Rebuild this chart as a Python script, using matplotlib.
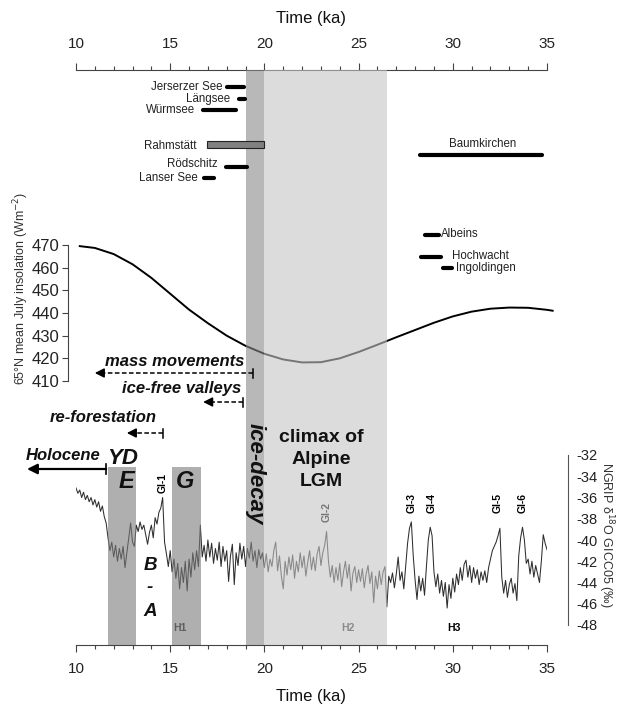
import numpy as np
import matplotlib
matplotlib.use("Agg")
import matplotlib.pyplot as plt
from matplotlib.patches import Rectangle

plt.rcParams['font.family'] = ['Liberation Sans', 'DejaVu Sans']

# ---------------- data ----------------
time_ticks = [10, 15, 20, 25, 30, 35]

ins_time = [10.2, 11, 12, 13, 14, 15, 16, 17, 18, 19, 20, 21, 22, 23, 24, 25,
            26, 27, 28, 29, 30, 31, 32, 33, 34, 35, 35.3]
ins_value = [469.5, 468.7, 466.0, 461.5, 455.5, 448.5, 441.5, 435.5, 430.0, 425.5,
             422.0, 419.5, 418.2, 418.3, 420.0, 422.8, 426.0, 429.3, 432.5, 435.7,
             438.5, 440.6, 441.9, 442.4, 442.3, 441.4, 441.0]
ins_ticks = [410, 420, 430, 440, 450, 460, 470]

ngrip_d18o = [
    -35.1, -35.6, -35.3, -36.0, -35.5, -36.2, -35.8, -36.4, -36.0, -36.7,
    -36.2, -36.9, -36.4, -37.3, -36.8, -37.8, -38.4, -39.8, -41.0, -40.2,
    -41.6, -40.5, -42.0, -40.8, -41.8, -40.6, -42.6, -41.2, -39.8, -38.4,
    -40.2, -40.6, -38.6, -39.2, -38.3, -39.0, -38.6, -39.5, -40.4, -39.3,
    -38.6, -39.8, -37.9, -38.5, -37.4, -37.0, -36.0, -40.2, -41.3, -42.5,
    -41.0, -43.0, -41.8, -43.6, -42.2, -44.6, -42.6, -44.0, -42.0, -44.8,
    -41.8, -43.5, -41.2, -42.8, -41.0, -42.5, -38.6, -41.6, -40.5, -42.0,
    -40.0, -41.6, -40.3, -42.2, -40.8, -41.9, -40.2, -42.5, -40.6, -42.0,
    -41.0, -43.9, -41.5, -40.4, -44.2, -41.2, -42.4, -40.3, -41.8, -40.6,
    -42.5, -40.8, -41.7, -40.2, -42.0, -41.0, -42.6, -40.9, -41.8, -41.2,
    -42.6, -41.3, -43.0, -41.8, -42.5, -41.0, -40.2, -42.9, -41.5, -43.4,
    -44.6, -42.0, -43.3, -41.6, -42.8, -41.4, -43.6, -42.0, -43.0, -41.2,
    -42.6, -41.5, -43.4, -42.1, -41.0, -42.8, -41.6, -42.9, -41.3, -40.6,
    -42.4, -41.2, -40.5, -39.2, -42.0, -43.5, -42.4, -44.0, -42.6, -43.8,
    -42.2, -44.4, -43.0, -42.0, -43.6, -42.3, -44.8, -43.1, -42.5, -44.0,
    -42.8, -43.9, -42.7, -44.5, -43.2, -42.4, -44.1, -43.0, -45.9, -43.4,
    -44.6, -42.9, -44.2, -43.0, -42.5, -46.3, -43.4, -44.0, -43.1, -44.5,
    -43.2, -41.6, -43.8, -43.0, -44.6, -42.5, -40.3, -38.9, -38.3, -41.5,
    -43.8, -45.6, -43.4, -44.8, -43.6, -45.2, -42.5, -40.0, -38.8, -39.6,
    -43.0, -44.4, -43.2, -45.0, -43.8, -45.3, -44.0, -46.4, -44.2, -45.5,
    -43.6, -44.9, -43.2, -44.2, -42.6, -43.8, -42.3, -41.9, -43.5, -42.4,
    -44.0, -42.6, -43.6, -42.8, -44.2, -43.0, -43.8, -42.9, -44.0, -42.6,
    -41.8, -41.0, -40.6, -40.2, -39.6, -38.9, -43.5, -45.0, -43.8, -45.4,
    -44.2, -43.6, -45.0, -44.1, -45.7, -41.5, -39.8, -38.8, -40.0, -42.2,
    -41.8, -43.2, -42.0, -43.5, -42.4, -43.2, -44.0, -42.0, -39.5, -40.3,
    -40.9]
ngrip_time = np.round(10.0 + 0.1 * np.arange(len(ngrip_d18o)), 1)
ngrip_ticks = [-48, -46, -44, -42, -40, -38, -36, -34, -32]

# periods (ka)
ice_decay = (19.0, 20.0)
lgm_climax = (20.0, 26.5)
stadial_E = (11.7, 13.2)
stadial_G = (15.1, 16.65)

# site age ranges (ka)
sites = ['Jerserzer See', 'Längsee', 'Würmsee', 'Rahmstätt', 'Rödschitz',
         'Lanser See', 'Baumkirchen', 'Albeins', 'Hochwacht', 'Ingoldingen']
site_start = [18.0, 18.65, 16.75, 16.95, 17.95, 16.8, 28.25, 28.5, 28.3, 29.5]
site_end = [18.9, 18.95, 18.5, 20.0, 19.05, 17.35, 34.75, 29.25, 29.35, 29.95]

# process arrows (ka): (from, to)
mass_mov = (19.4, 11.0)
ice_free = (18.85, 16.75)
reforest = (14.6, 12.7)
holocene = (11.6, 7.4)

# Greenland interstadials and Heinrich events (ka)
gi_names = ['GI-1', 'GI-2', 'GI-3', 'GI-4', 'GI-5', 'GI-6']
gi_age = [14.62, 23.3, 27.8, 28.85, 32.4, 33.7]
h_names = ['H1', 'H2', 'H3']
h_age = [15.5, 24.45, 30.05]

# ---------------- layout ----------------
W, H = 617, 706
fig = plt.figure(figsize=(W / 100, H / 100), dpi=100)


def fx(px):
    return px / W


def fy(py):
    return 1 - py / H


X0, X1 = 76, 547
YT, YB = 70, 645
AX_COL = '#444444'
TXT = '#111111'

# insolation axes
ax2 = fig.add_axes([fx(X0), fy(381), fx(X1) - fx(X0), fy(245) - fy(381)], zorder=1)
ax2.patch.set_visible(False)
for s in ['top', 'right', 'bottom']:
    ax2.spines[s].set_visible(False)
ax2.spines['left'].set_position(('outward', 8 * 0.72))
ax2.spines['left'].set_color(AX_COL)
ax2.set_xlim(10, 35)
ax2.set_ylim(410, 470)
ax2.set_xticks([])
ax2.set_yticks(ins_ticks)
ax2.tick_params(axis='y', length=4, width=0.8, labelsize=12, pad=2,
                color=AX_COL, labelcolor='#222222')
ax2.plot(ins_time, ins_value, color='black', lw=1.4, clip_on=False)

# NGRIP axes
ax3 = fig.add_axes([fx(X0), fy(625), fx(X1) - fx(X0), fy(455) - fy(625)], zorder=1)
ax3.patch.set_visible(False)
for s in ['top', 'left', 'bottom']:
    ax3.spines[s].set_visible(False)
ax3.spines['right'].set_position(('outward', 21 * 0.72))
ax3.spines['right'].set_color('#555555')
ax3.set_xlim(10, 35)
ax3.set_ylim(-48, -32)
ax3.set_xticks([])
ax3.yaxis.tick_right()
ax3.set_yticks(ngrip_ticks)
ax3.set_yticklabels([f'{v:d}' for v in ngrip_ticks])
ax3.tick_params(axis='y', length=0, labelsize=10.5, pad=6, labelcolor='#222222')
ax3.plot(ngrip_time, ngrip_d18o, color='#2e2e2e', lw=0.75)

# main layout axes (x in ka, y in pixel rows)
ax = fig.add_axes([fx(X0), fy(YB), fx(X1) - fx(X0), fy(YT) - fy(YB)], zorder=2)
ax.patch.set_visible(False)
ax.set_xlim(10, 35)
ax.set_ylim(YB, YT)
for s in ['top', 'left', 'right']:
    ax.spines[s].set_visible(False)
ax.spines['bottom'].set_color(AX_COL)
ax.set_yticks([])
ax.set_xticks(time_ticks)
ax.set_xticks(np.arange(10, 36, 1), minor=True)
ax.tick_params(axis='x', which='major', length=5, width=0.8, color=AX_COL,
               labelsize=11, pad=7, labelcolor='#222222')
ax.tick_params(axis='x', which='minor', length=3, width=0.8, color=AX_COL)

axt = ax.secondary_xaxis('top')
axt.set_xticks(time_ticks)
axt.set_xticks(np.arange(10, 36, 1), minor=True)
axt.spines['top'].set_color(AX_COL)
axt.tick_params(axis='x', which='major', length=5, width=0.8, color=AX_COL,
                labelsize=11, pad=8.5, labelcolor='#222222')
axt.tick_params(axis='x', which='minor', length=3, width=0.8, color=AX_COL)

fig.text(fx(311), fy(19), 'Time (ka)', ha='center', va='center', fontsize=12, color=TXT)
fig.text(fx(311), fy(697), 'Time (ka)', ha='center', va='center', fontsize=12, color=TXT)
fig.text(fx(21), fy(288), '65°N mean July insolation (Wm$^{-2}$)', rotation=90,
         ha='center', va='center', fontsize=9, color='#333333')
fig.text(fx(606), fy(535), 'NGRIP δ$^{18}$O GICC05 (‰)', rotation=270,
         ha='center', va='center', fontsize=9, color='#333333')

# shaded periods (semi-transparent, drawn over curves)
ax.axvspan(*lgm_climax, color='#c5c5c5', alpha=0.6, lw=0, zorder=1)
ax.axvspan(*ice_decay, color='#8a8a8a', alpha=0.6, lw=0, zorder=1)
for per in (stadial_E, stadial_G):
    ax.add_patch(Rectangle((per[0], 467), per[1] - per[0], YB - 467,
                           facecolor='#7b7b7b', alpha=0.6, lw=0, zorder=1))

# sites
site_row = [87, 99, 110, 144, 167, 178, 155, 235, 257, 268]
label_pos = [(17.8, 87, 'right'), (18.17, 99, 'right'), (16.3, 110, 'right'),
             (16.42, 146, 'right'), (17.54, 164, 'right'), (16.48, 178, 'right'),
             (31.6, 144, 'center'), (29.37, 234, 'left'), (29.96, 256, 'left'),
             (30.17, 268, 'left')]
for name, a, b, row, (lx, ly, ha) in zip(sites, site_start, site_end, site_row, label_pos):
    if name == 'Rahmstätt':
        ax.add_patch(Rectangle((a, row - 3.5), b - a, 7, facecolor='#808080',
                               edgecolor='#222222', lw=0.8, zorder=4))
    else:
        ax.plot([a, b], [row, row], color='black', lw=3.0, solid_capstyle='round', zorder=4)
    ax.text(lx, ly, name, ha=ha, va='center', fontsize=8.3, color='#222222', zorder=4)

# arrows
bi = dict(fontsize=12, fontweight='bold', fontstyle='italic', color=TXT, zorder=5)


def dashed_arrow(x_from, x_to, y):
    ax.plot([x_from, x_to + 0.3], [y, y], color='black', lw=1.1, ls=(0, (3, 1.6)), zorder=5)
    ax.plot([x_from, x_from], [y - 4.5, y + 4.5], color='black', lw=1.1, zorder=5)
    ax.annotate('', xy=(x_to, y), xytext=(x_to + 0.35, y),
                arrowprops=dict(arrowstyle='-|>,head_length=0.55,head_width=0.28',
                                color='black', lw=1.1, shrinkA=0, shrinkB=0), zorder=5)


dashed_arrow(mass_mov[0], mass_mov[1], 373)
dashed_arrow(ice_free[0], ice_free[1], 402)
dashed_arrow(reforest[0], reforest[1], 433)
ax.text(15.25, 361, 'mass movements', ha='center', va='center', **bi)
ax.text(15.63, 389, 'ice-free valleys', ha='center', va='center', **bi)
ax.text(11.45, 418, 're-forestation', ha='center', va='center', **bi)

# Holocene arrow
ax.annotate('', xy=(holocene[1], 469), xytext=(holocene[0], 469), annotation_clip=False,
            arrowprops=dict(arrowstyle='-|>,head_length=0.6,head_width=0.3',
                            color='black', lw=1.6, shrinkA=0, shrinkB=0), zorder=5)
ax.plot([holocene[0], holocene[0]], [464, 474], color='black', lw=1.2, zorder=5)
ax.text(9.34, 456, 'Holocene', ha='center', va='center', **bi)
ax.text(12.45, 458, 'YD', ha='center', va='center', fontsize=16, fontweight='bold',
        fontstyle='italic', color=TXT, zorder=5)
ax.text(12.7, 482, 'E', ha='center', va='center', fontsize=17, fontweight='bold',
        fontstyle='italic', color=TXT, zorder=5)
ax.text(15.8, 482, 'G', ha='center', va='center', fontsize=17, fontweight='bold',
        fontstyle='italic', color=TXT, zorder=5)
for s, yy in zip(['B', '-', 'A'], [565, 588, 612]):
    ax.text(13.93, yy, s, ha='center', va='center', fontsize=13.5, fontweight='bold',
            fontstyle='italic', color=TXT, zorder=5)
ax.text(19.5, 474, 'ice-decay', ha='center', va='center', rotation=270, fontsize=16,
        fontweight='bold', fontstyle='italic', color=TXT, zorder=5)
for line, yy in zip(['climax of', 'Alpine', 'LGM'], [438, 460, 482]):
    ax.text(23.0, yy, line, ha='center', va='center', fontsize=14,
            fontweight='bold', color=TXT, zorder=5)

# GI labels (GI-2 sits beneath the LGM shading)
gi_y = [483, 512, 503, 503, 503, 503]
for name, age, yy in zip(gi_names, gi_age, gi_y):
    ax.text(age, yy, name, rotation=90, ha='center', va='center', fontsize=7.5,
            fontweight='bold', color='black', zorder=0.5 if name == 'GI-2' else 5)
for name, age in zip(h_names, h_age):
    ax.text(age, 628, name, ha='center', va='center', fontsize=7.5, fontweight='bold',
            color='black' if name == 'H3' else '#333333',
            zorder=5 if name == 'H3' else 0.5)

fig.savefig('out.png', dpi=100)
